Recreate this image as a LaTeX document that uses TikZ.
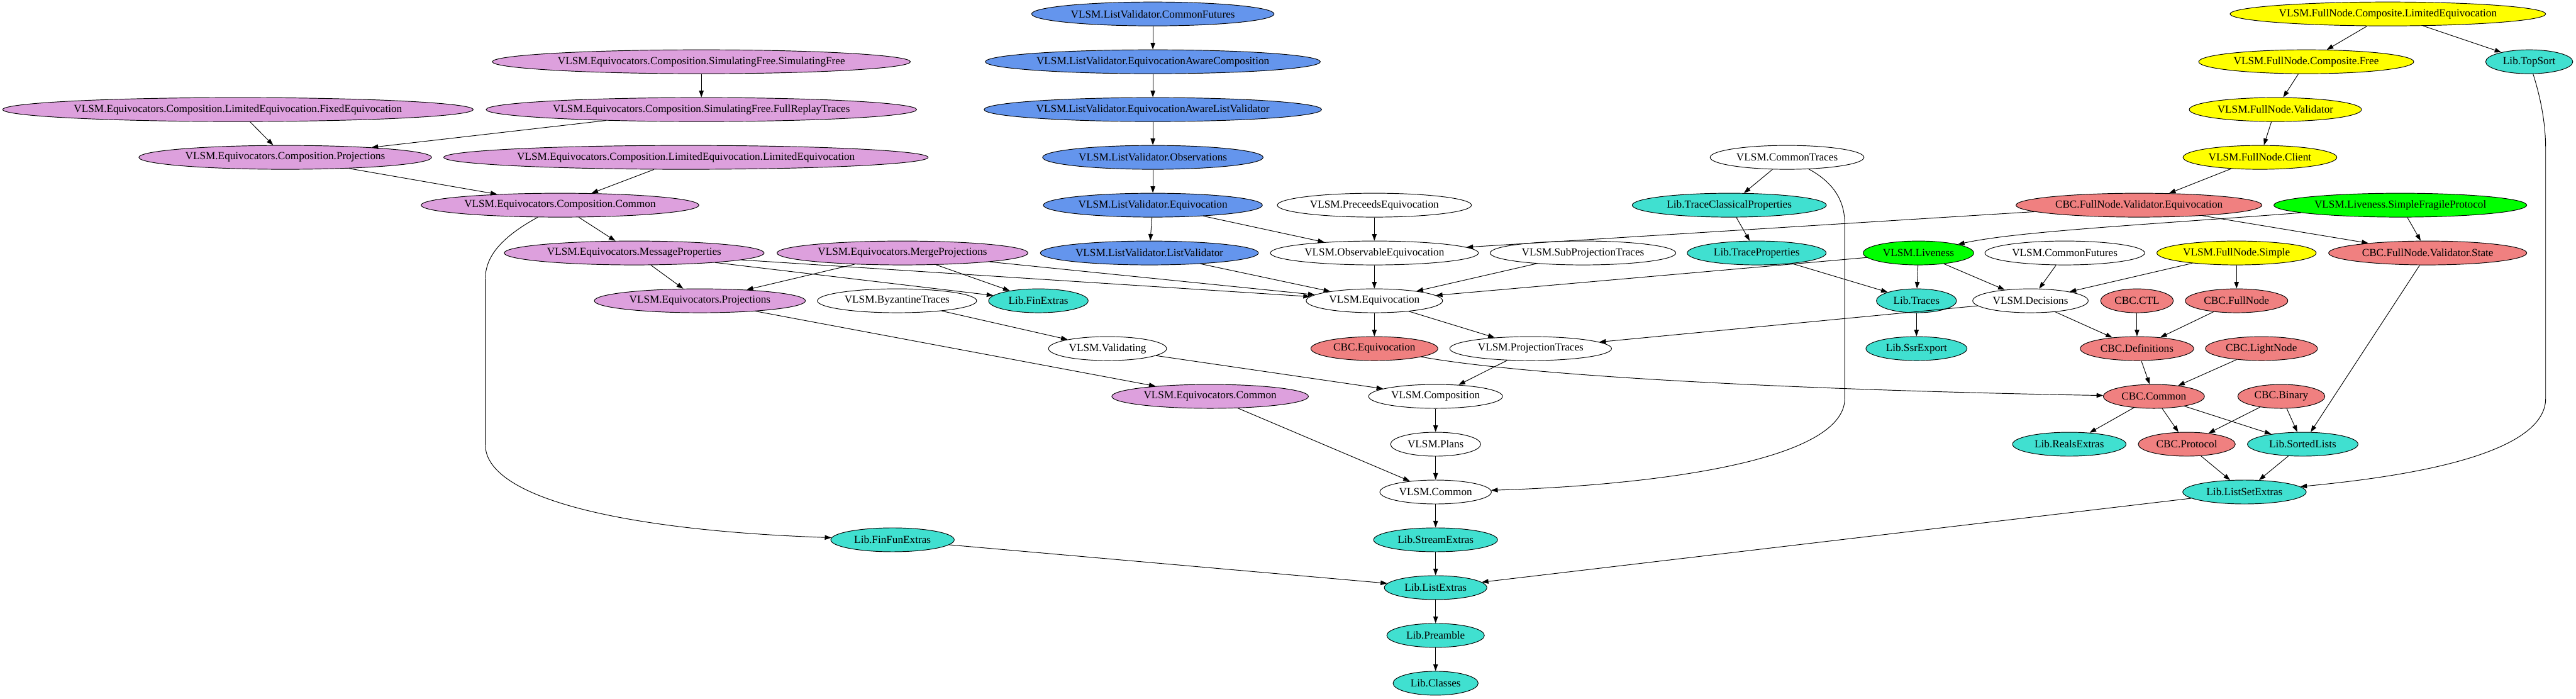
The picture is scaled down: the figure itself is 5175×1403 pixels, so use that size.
\documentclass[tikz,border=0pt]{standalone}
\usepackage{fontspec}
\setmainfont{Liberation Serif}
\usetikzlibrary{shapes.geometric,arrows.meta}
\definecolor{cplum}{HTML}{DDA0DD}
\definecolor{cblue}{HTML}{6495ED}
\definecolor{cturq}{HTML}{40E0D0}
\definecolor{ccoral}{HTML}{F08080}
\definecolor{cyel}{HTML}{FFFF00}
\definecolor{cgreen}{HTML}{00FF00}
\newcommand{\nlab}[1]{\makebox[0pt]{#1}}
\tikzset{
  nd/.style={ellipse, draw, line width=0.9pt, minimum height=36pt, inner sep=0pt, minimum width=#1*0.75pt,
     font=\fontsize{16.3}{18}\selectfont},
  pk/.style={fill=cplum},
  bl/.style={fill=cblue},
  tq/.style={fill=cturq},
  co/.style={fill=ccoral},
  ye/.style={fill=cyel},
  gr/.style={fill=cgreen},
  dep/.style={draw, line width=0.9pt, -{Triangle[length=10pt,width=7pt]}}
}
\begin{document}
\begin{tikzpicture}[x=0.75pt,y=-0.75pt]
\useasboundingbox (0,0) rectangle (5175,1403);
% ---- pink
\node[nd=840,pk] (simfree) at (1409,124) {\nlab{VLSM.Equivocators.Composition.SimulatingFree.SimulatingFree}};
\node[nd=945,pk] (fixedeq) at (478,220) {\nlab{VLSM.Equivocators.Composition.LimitedEquivocation.FixedEquivocation}};
\node[nd=865,pk] (fullreplay) at (1409,220) {\nlab{VLSM.Equivocators.Composition.SimulatingFree.FullReplayTraces}};
\node[nd=588,pk] (compproj) at (573,316) {\nlab{VLSM.Equivocators.Composition.Projections}};
\node[nd=973,pk] (limeq) at (1378,316) {\nlab{VLSM.Equivocators.Composition.LimitedEquivocation.LimitedEquivocation}};
\node[nd=558,pk] (compcommon) at (1125,412) {\nlab{VLSM.Equivocators.Composition.Common}};
\node[nd=522,pk] (msgprop) at (1274,508) {\nlab{VLSM.Equivocators.MessageProperties}};
\node[nd=504,pk] (mergeproj) at (1813,508) {\nlab{VLSM.Equivocators.MergeProjections}};
\node[nd=424,pk] (eqproj) at (1406,604) {\nlab{VLSM.Equivocators.Projections}};
\node[nd=395,pk] (eqcommon) at (2431,796) {\nlab{VLSM.Equivocators.Common}};
% ---- blue
\node[nd=487,bl] (lvcf) at (2316,28) {\nlab{VLSM.ListValidator.CommonFutures}};
\node[nd=673,bl] (lveac) at (2316,124) {\nlab{VLSM.ListValidator.EquivocationAwareComposition}};
\node[nd=678,bl] (lveal) at (2316,220) {\nlab{VLSM.ListValidator.EquivocationAwareListValidator}};
\node[nd=443,bl] (lvobs) at (2316,316) {\nlab{VLSM.ListValidator.Observations}};
\node[nd=440,bl] (lveq) at (2316,412) {\nlab{VLSM.ListValidator.Equivocation}};
\node[nd=438,bl] (lvlv) at (2309,508) {\nlab{VLSM.ListValidator.ListValidator}};
% ---- white
\node[nd=320] (byz) at (1802,604) {\nlab{VLSM.ByzantineTraces}};
\node[nd=237] (validating) at (2225,700) {\nlab{VLSM.Validating}};
\node[nd=390] (preceeds) at (2761,412) {\nlab{VLSM.PreceedsEquivocation}};
\node[nd=418] (obseq) at (2761,508) {\nlab{VLSM.ObservableEquivocation}};
\node[nd=373] (subproj) at (3180,508) {\nlab{VLSM.SubProjectionTraces}};
\node[nd=309] (commontraces) at (3590,316) {\nlab{VLSM.CommonTraces}};
\node[nd=274] (equiv) at (2761,604) {\nlab{VLSM.Equivocation}};
\node[nd=325] (projtraces) at (3075,700) {\nlab{VLSM.ProjectionTraces}};
\node[nd=269] (composition) at (2884,796) {\nlab{VLSM.Composition}};
\node[nd=181] (plans) at (2884,892) {\nlab{VLSM.Plans}};
\node[nd=224] (vcommon) at (2884,988) {\nlab{VLSM.Common}};
\node[nd=321] (commonfut) at (4148,508) {\nlab{VLSM.CommonFutures}};
\node[nd=232] (decisions) at (4079,604) {\nlab{VLSM.Decisions}};
% ---- turquoise
\node[nd=200,tq] (finextras) at (2086,604) {\nlab{Lib.FinExtras}};
\node[nd=248,tq] (finfun) at (1793,1084) {\nlab{Lib.FinFunExtras}};
\node[nd=390,tq] (tcp) at (3474,412) {\nlab{Lib.TraceClassicalProperties}};
\node[nd=279,tq] (tp) at (3529,508) {\nlab{Lib.TraceProperties}};
\node[nd=161,tq] (traces) at (3850,604) {\nlab{Lib.Traces}};
\node[nd=203,tq] (ssr) at (3850,700) {\nlab{Lib.SsrExport}};
\node[nd=249,tq] (stream) at (2884,1084) {\nlab{Lib.StreamExtras}};
\node[nd=206,tq] (listextras) at (2884,1180) {\nlab{Lib.ListExtras}};
\node[nd=196,tq] (preamble) at (2884,1276) {\nlab{Lib.Preamble}};
\node[nd=171,tq] (classes) at (2884,1372) {\nlab{Lib.Classes}};
\node[nd=175,tq] (topsort) at (5081,124) {\nlab{Lib.TopSort}};
\node[nd=228,tq] (reals) at (4157,892) {\nlab{Lib.RealsExtras}};
\node[nd=222,tq] (sorted) at (4626,892) {\nlab{Lib.SortedLists}};
\node[nd=248,tq] (listset) at (4509,988) {\nlab{Lib.ListSetExtras}};
% ---- green
\node[nd=222,gr] (liveness) at (3854,508) {\nlab{VLSM.Liveness}};
\node[nd=508,gr] (sfp) at (4822,412) {\nlab{VLSM.Liveness.SimpleFragileProtocol}};
% ---- yellow
\node[nd=634,ye] (fncle) at (4797,28) {\nlab{VLSM.FullNode.Composite.LimitedEquivocation}};
\node[nd=432,ye] (fncf) at (4633,124) {\nlab{VLSM.FullNode.Composite.Free}};
\node[nd=346,ye] (fnval) at (4571,220) {\nlab{VLSM.FullNode.Validator}};
\node[nd=309,ye] (fnclient) at (4540,316) {\nlab{VLSM.FullNode.Client}};
\node[nd=320,ye] (fnsimple) at (4493,508) {\nlab{VLSM.FullNode.Simple}};
% ---- coral
\node[nd=494,co] (cbcfve) at (4297,412) {\nlab{CBC.FullNode.Validator.Equivocation}};
\node[nd=398,co] (cbcfvs) at (4877,508) {\nlab{CBC.FullNode.Validator.State}};
\node[nd=146,co] (cbcctl) at (4293,604) {\nlab{CBC.CTL}};
\node[nd=206,co] (cbcfn) at (4493,604) {\nlab{CBC.FullNode}};
\node[nd=255,co] (cbceq) at (2761,700) {\nlab{CBC.Equivocation}};
\node[nd=228,co] (cbcdef) at (4293,700) {\nlab{CBC.Definitions}};
\node[nd=225,co] (cbclight) at (4543,700) {\nlab{CBC.LightNode}};
\node[nd=203,co] (cbccommon) at (4327,796) {\nlab{CBC.Common}};
\node[nd=175,co] (cbcbinary) at (4583,796) {\nlab{CBC.Binary}};
\node[nd=195,co] (cbcprot) at (4393,892) {\nlab{CBC.Protocol}};
% ---- edges: pink
\draw[dep] (simfree) -- (fullreplay);
\draw[dep] (fixedeq) -- (compproj);
\draw[dep] (fullreplay) -- (compproj);
\draw[dep] (compproj) -- (compcommon);
\draw[dep] (limeq) -- (compcommon);
\draw[dep] (compcommon) -- (msgprop);
\draw[dep] (compcommon) .. controls (1000,480) and (975,520) .. (975,560) -- (975,893) .. controls (975,1000) and (1250,1065) .. (finfun);
\draw[dep] (msgprop) -- (eqproj);
\draw[dep] (msgprop) -- (finextras);
\draw[dep] (msgprop) -- (equiv);
\draw[dep] (mergeproj) -- (eqproj);
\draw[dep] (mergeproj) -- (finextras);
\draw[dep] (mergeproj) -- (equiv);
\draw[dep] (eqproj) -- (eqcommon);
\draw[dep] (byz) -- (validating);
\draw[dep] (validating) -- (composition);
\draw[dep] (eqcommon) -- (vcommon);
% ---- blue
\draw[dep] (lvcf) -- (lveac);
\draw[dep] (lveac) -- (lveal);
\draw[dep] (lveal) -- (lvobs);
\draw[dep] (lvobs) -- (lveq);
\draw[dep] (lveq) -- (lvlv);
\draw[dep] (lveq) -- (obseq);
\draw[dep] (lvlv) -- (equiv);
% ---- middle
\draw[dep] (preceeds) -- (obseq);
\draw[dep] (obseq) -- (equiv);
\draw[dep] (subproj) -- (equiv);
\draw[dep] (commontraces) -- (tcp);
\draw[dep] (commontraces) .. controls (3690,370) and (3706,410) .. (3706,450) -- (3706,800) .. controls (3706,930) and (3300,975) .. (vcommon);
\draw[dep] (tcp) -- (tp);
\draw[dep] (tp) -- (traces);
\draw[dep] (cbcfve) -- (obseq);
\draw[dep] (liveness) -- (equiv);
\draw[dep] (liveness) -- (traces);
\draw[dep] (liveness) -- (decisions);
\draw[dep] (traces) -- (ssr);
\draw[dep] (equiv) -- (cbceq);
\draw[dep] (equiv) -- (projtraces);
\draw[dep] (decisions) -- (projtraces);
\draw[dep] (projtraces) -- (composition);
\draw[dep] (cbceq) .. controls (3100,760) and (3700,785) .. (cbccommon);
\draw[dep] (composition) -- (plans);
\draw[dep] (plans) -- (vcommon);
\draw[dep] (vcommon) -- (stream);
\draw[dep] (stream) -- (listextras);
\draw[dep] (listextras) -- (preamble);
\draw[dep] (preamble) -- (classes);
\draw[dep] (finfun) -- (listextras);
\draw[dep] (listset) -- (listextras);
% ---- right
\draw[dep] (fncle) -- (fncf);
\draw[dep] (fncle) -- (topsort);
\draw[dep] (fncf) -- (fnval);
\draw[dep] (fnval) -- (fnclient);
\draw[dep] (fnclient) -- (cbcfve);
\draw[dep] (sfp) .. controls (4300,452) and (4050,465) .. (liveness);
\draw[dep] (sfp) -- (cbcfvs);
\draw[dep] (cbcfve) -- (cbcfvs);
\draw[dep] (commonfut) -- (decisions);
\draw[dep] (fnsimple) -- (decisions);
\draw[dep] (fnsimple) -- (cbcfn);
\draw[dep] (decisions) -- (cbcdef);
\draw[dep] (cbcctl) -- (cbcdef);
\draw[dep] (cbcfn) -- (cbcdef);
\draw[dep] (cbcdef) -- (cbccommon);
\draw[dep] (cbclight) -- (cbccommon);
\draw[dep] (cbcfvs) -- (sorted);
\draw[dep] (topsort) .. controls (5105,200) and (5114,250) .. (5114,300) -- (5114,800) .. controls (5114,920) and (4800,960) .. (listset);
\draw[dep] (cbccommon) -- (reals);
\draw[dep] (cbccommon) -- (cbcprot);
\draw[dep] (cbccommon) -- (sorted);
\draw[dep] (cbcbinary) -- (cbcprot);
\draw[dep] (cbcbinary) -- (sorted);
\draw[dep] (cbcprot) -- (listset);
\draw[dep] (sorted) -- (listset);
\end{tikzpicture}
\end{document}
